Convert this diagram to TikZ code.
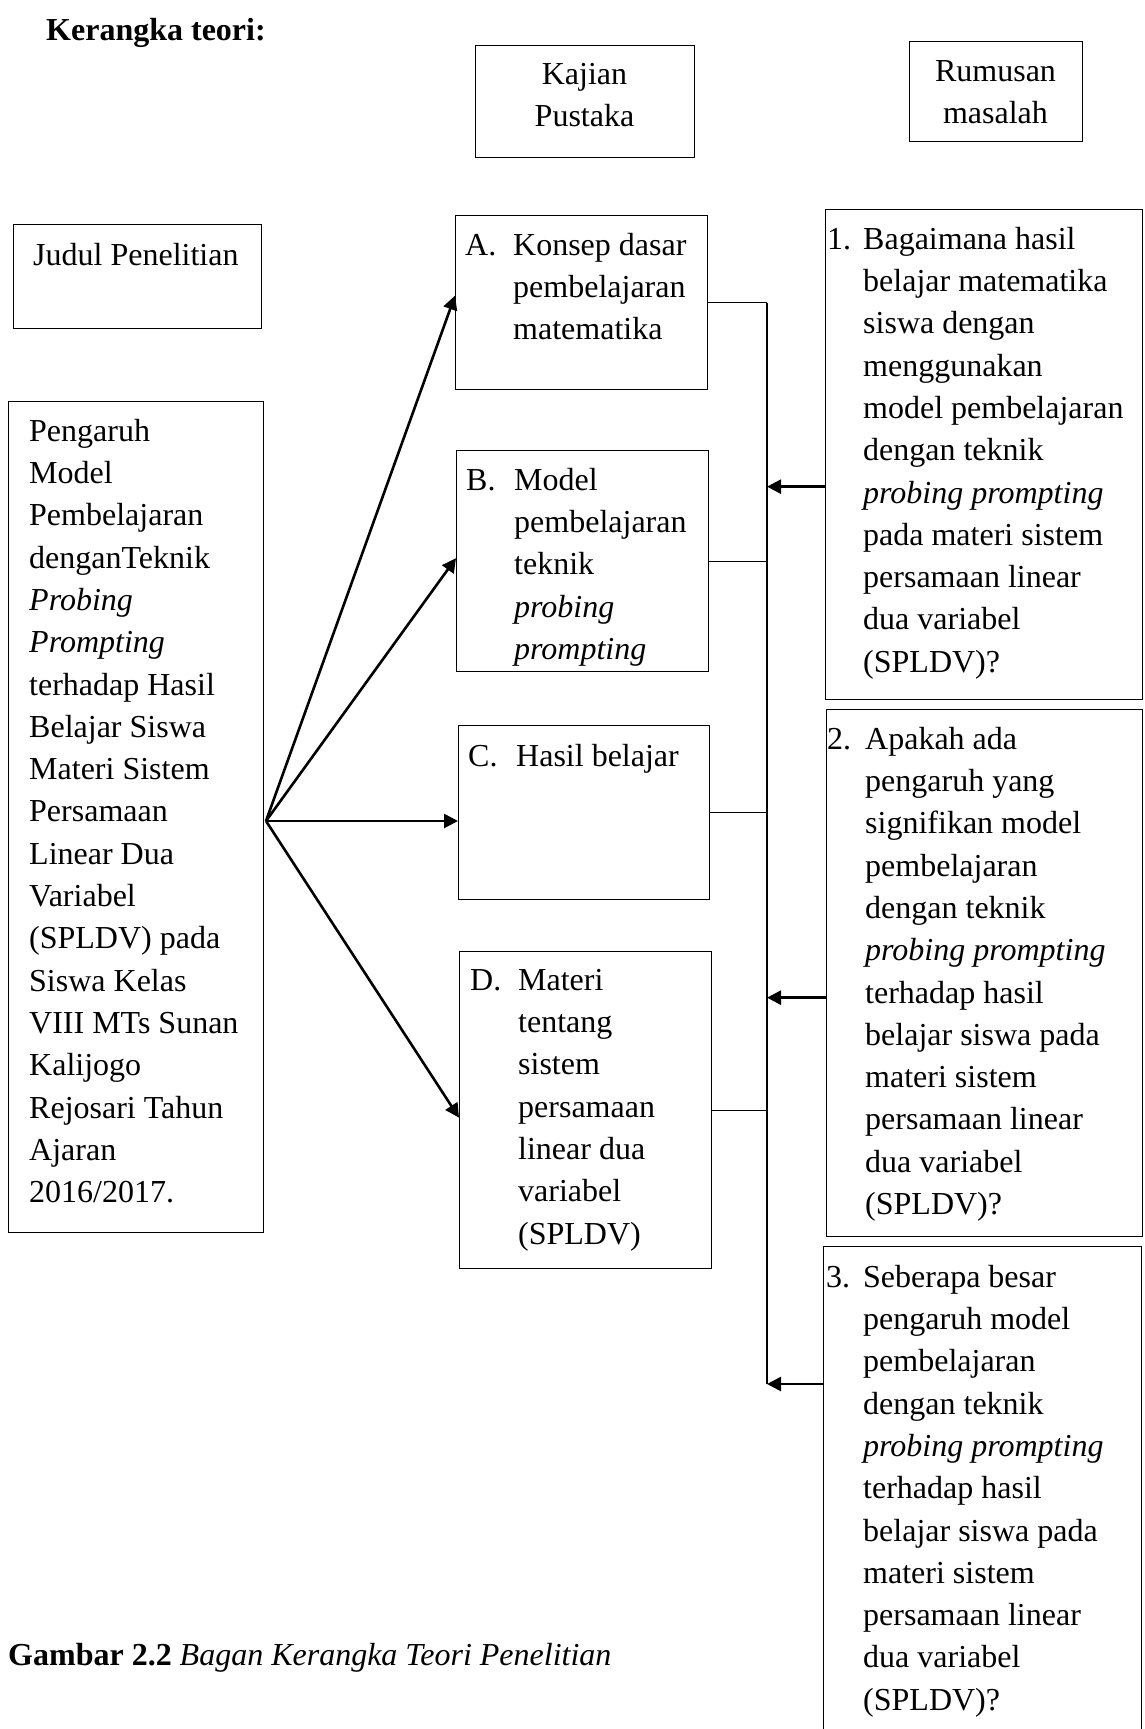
\documentclass[tikz,border=0pt]{standalone}
\usepackage{fontspec}
\setmainfont{Liberation Serif}
\usetikzlibrary{arrows.meta}
\newcommand{\firstrow}{\rule{0pt}{30pt}}

\begin{document}
\begin{tikzpicture}[x=1pt,y=-1pt]
\tikzstyle{every node}+=[inner sep=0pt, font=\fontsize{32}{42.3}\selectfont]
\tikzstyle{frame}=[draw=black, line width=1.3pt, anchor=north west]
\tikzstyle{txt}=[align=left, anchor=north west]
\tikzstyle{ctxt}=[align=center, anchor=north]
\tikzstyle{link}=[black, line width=1.3pt]
\tikzstyle{arr}=[black, line width=2.6pt, -{Triangle[length=14pt,width=14pt]}]
\useasboundingbox (0,0) rectangle (1144,1729);
\draw (46,10) node[txt] (title) {\firstrow\textbf{Kerangka teori:}};
% heads
\draw (475,45) node[frame, minimum width=219pt, minimum height=112pt] (kajian) {};
\draw (584.5,54) node[ctxt] (kajiantxt) {\firstrow Kajian\\Pustaka};
\draw (909,41) node[frame, minimum width=173pt, minimum height=100pt] (rumusan) {};
\draw (995.5,51) node[ctxt] (rumusantxt) {\firstrow Rumusan\\masalah};
\draw (13,224) node[frame, minimum width=248pt, minimum height=104pt] (judul) {};
\draw (33,235) node[txt] (judultxt) {\firstrow Judul Penelitian};
% judul penelitian
\draw (8,401) node[frame, minimum width=255pt, minimum height=831pt] (judulisi) {};
\draw (29,411) node[txt] (judulisitxt) {\firstrow Pengaruh\\Model\\Pembelajaran\\denganTeknik\\\textit{Probing}\\\textit{Prompting}\\terhadap Hasil\\Belajar Siswa\\Materi Sistem\\Persamaan\\Linear Dua\\Variabel\\(SPLDV) pada\\Siswa Kelas\\VIII MTs Sunan\\Kalijogo\\Rejosari Tahun\\Ajaran\\2016/2017.};
% kajian pustaka
\draw (455,215) node[frame, minimum width=252pt, minimum height=174pt] (a) {};
\draw (513,225) node[txt] (atxt) {\firstrow\llap{\makebox[48pt][l]{A.}}Konsep dasar\\pembelajaran\\matematika};
\draw (456,450) node[frame, minimum width=252pt, minimum height=221pt] (b) {};
\draw (514,460) node[txt] (btxt) {\firstrow\llap{\makebox[48pt][l]{B.}}Model\\pembelajaran\\teknik\\\textit{probing}\\\textit{prompting}};
\draw (458,725) node[frame, minimum width=251pt, minimum height=174pt] (c) {};
\draw (516,736) node[txt] (ctxt) {\firstrow\llap{\makebox[48pt][l]{C.}}Hasil belajar};
\draw (459,951) node[frame, minimum width=252pt, minimum height=317pt] (d) {};
\draw (518,960) node[txt] (dtxt) {\firstrow\llap{\makebox[48pt][l]{D.}}Materi\\tentang\\sistem\\persamaan\\linear dua\\variabel\\(SPLDV)};
% rumusan masalah
\draw (825,209) node[frame, minimum width=317pt, minimum height=490pt] (q1) {};
\draw (863,219) node[txt] (q1txt) {\firstrow\llap{\makebox[36pt][l]{1.}}Bagaimana hasil\\belajar matematika\\siswa dengan\\menggunakan\\model pembelajaran\\dengan teknik\\\textit{probing prompting}\\pada materi sistem\\persamaan linear\\dua variabel\\(SPLDV)?};
\draw (826,709) node[frame, minimum width=316pt, minimum height=527pt] (q2) {};
\draw (865,719) node[txt] (q2txt) {\firstrow\llap{\makebox[38pt][l]{2.}}Apakah ada\\pengaruh yang\\signifikan model\\pembelajaran\\dengan teknik\\\textit{probing prompting}\\terhadap hasil\\belajar siswa pada\\materi sistem\\persamaan linear\\dua variabel\\(SPLDV)?};
\draw (823,1246) node[frame, minimum width=318pt, minimum height=540pt] (q3) {};
\draw (863,1257) node[txt] (q3txt) {\firstrow\llap{\makebox[37pt][l]{3.}}Seberapa besar\\pengaruh model\\pembelajaran\\dengan teknik\\\textit{probing prompting}\\terhadap hasil\\belajar siswa pada\\materi sistem\\persamaan linear\\dua variabel\\(SPLDV)?};
% connectors
\coordinate (hub) at (266,821);
\coordinate (bus) at (767,304);
\draw[arr] (hub) -- ([yshift=7pt]a.west);
\draw[arr] (hub) -- ([yshift=3pt]b.west);
\draw[arr] (hub) -- (c.west |- hub);
\draw[arr] (hub) -- ([yshift=-7.5pt]d.west);
\coordinate (q1out) at ([yshift=-32pt]q1.west);
\coordinate (q2out) at ([yshift=-24.5pt]q2.west);
\coordinate (q3out) at ([yshift=-138pt]q3.north west);
\draw[link] (a.east) -- (a.east -| bus);
\draw[link] (b.east) -- (b.east -| bus);
\draw[link] (c.east) -- (c.east -| bus);
\draw[link] (d.east) -- (d.east -| bus);
\draw[link] (a.east -| bus) -- (q3out -| bus);
\draw[arr] (q1out) -- (q1out -| bus);
\draw[arr] (q2out) -- (q2out -| bus);
\draw[arr] (q3out) -- (q3out -| bus);
\draw (8,1635) node[txt] (caption) {\firstrow\textbf{Gambar 2.2} \textit{Bagan Kerangka Teori Penelitian}};
\end{tikzpicture}
\end{document}
